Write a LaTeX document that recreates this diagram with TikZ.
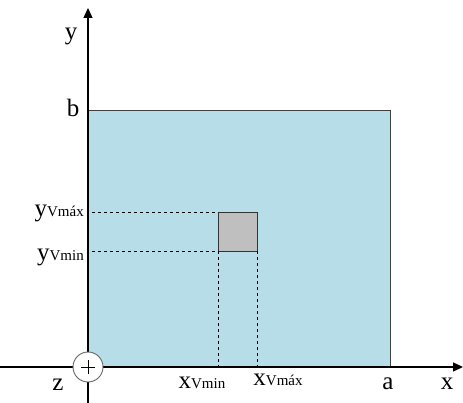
\documentclass[tikz,border=0pt]{standalone}
\usepackage{fontspec}
\setmainfont{Liberation Serif}
\usetikzlibrary{arrows.meta}
\definecolor{areab}{HTML}{B7DDE8}
\definecolor{boxg}{HTML}{BFBFBF}
\newcommand{\bigf}{\fontsize{25}{25}\selectfont}
\newcommand{\smlf}{\fontsize{15}{15}\selectfont}
\begin{document}
\begin{tikzpicture}[x=1pt,y=-1pt,
  axis/.style={line width=1.3pt,-{Triangle[length=10pt,width=9pt]}},
  dline/.style={dashed,line width=0.6pt},
  lab/.style={font=\bigf,inner sep=0pt}]
\useasboundingbox (0,0) rectangle (463,403);
\fill[white] (0,0) rectangle (463,403);
\draw[fill=areab,draw=black!75,line width=0.7pt] (88,110) rectangle (390,367);
\draw[fill=boxg,draw=black!80,line width=0.8pt] (218,212) rectangle (257,251);
\coordinate (ymaxL) at (92,212);
\coordinate (yminL) at (92,251);
\coordinate (xminB) at (218,367);
\coordinate (xmaxB) at (257,367);
\draw[dline] (ymaxL) -- (218,212);
\draw[dline] (yminL) -- (218,251);
\draw[dline] (218,251) -- (xminB);
\draw[dline] (257,251) -- (xmaxB);
\coordinate (xs) at (0,367);
\coordinate (xe) at (463,367);
\coordinate (ys) at (88,403);
\coordinate (ye) at (88,8);
\draw[axis] (xs) -- (xe);
\draw[axis] (ys) -- (ye);
\node[circle,draw=black!60,fill=white,line width=0.9pt,minimum size=30pt,inner sep=0pt,font=\fontsize{24}{24}\selectfont] (o) at (88,367) {};
\draw[line width=0.8pt] (81,367) -- (95,367) (88,360) -- (88,374);
\node[lab,anchor=base] (ly) at (71,40) {y};
\node[lab,anchor=base] (lb) at (73,117) {b};
\node[lab,anchor=base] (lz) at (58,390) {z};
\node[lab,anchor=base] (la) at (388,389) {a};
\node[lab,anchor=base] (lx) at (447,389) {x};
\node[anchor=base east,inner sep=0pt] (lymax) at (84,217) {\bigf y\smlf Vmáx};
\node[anchor=base east,inner sep=0pt] (lymin) at (84,261) {\bigf y\smlf Vmin};
\node[anchor=base,inner sep=0pt] (lxmin) at (202,388) {\bigf x\smlf Vmin};
\node[anchor=base,inner sep=0pt] (lxmax) at (278,385) {\bigf x\smlf Vmáx};
\end{tikzpicture}
\end{document}
